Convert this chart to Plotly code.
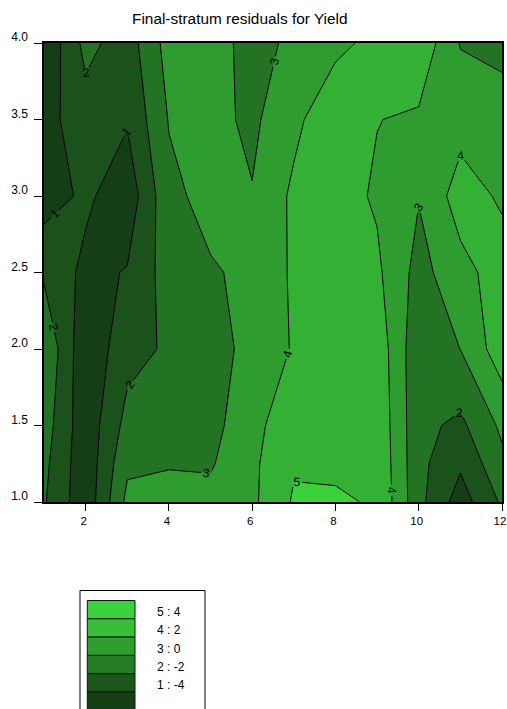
import plotly.graph_objects as go

# ---------------- data ----------------
x_cols = [1, 2, 3, 4, 5, 6, 7, 8, 9, 10, 11, 12]
y_rows = [1.0, 1.25, 1.5, 2.0, 2.5, 3.0, 3.5, 4.0]

res_y100 = [-1.8, -5.4, 0.5, 0.8, 0.6, 1.6, 4.23, 4.15, 3.89, -1.4, -4.95, -1.7]
res_y125 = [-1.5, -5.4, -0.36, -0.15, -0.2, 1.6, 3.8, 3.8, 3.69, -1.44, -3.7, -0.49]
res_y150 = [-1.04, -5.35, -1.32, -1.2, -0.84, 1.7, 2.64, 3.0, 3.55, -1.45, -2.45, 0.4]
res_y200 = [-0.16, -5.57, -2.72, -1.71, -0.8, 0.6, 2.17, 3.0, 3.29, -1.47, 0.02, 3.17]
res_y250 = [-2.3, -4.54, -3.88, -1.07, -0.2, 0.43, 2.3, 2.9, 2.37, -0.71, 1.32, 2.94]
res_y300 = [-5.0, -3.59, -5.3, -0.5, 0.66, 0.1, 2.39, 2.8, 1.75, 0.1, 2.94, 1.7]
res_y350 = [-4.7, -2.9, -3.8, 0.11, 0.6, -0.4, 1.5, 3.5, 2.05, 1.7, 1.2, 0.8]
res_y400 = [-5.74, -1.39, -3.0, 0.8, 0.73, -0.6, 0.35, 1.5, 2.56, 3.5, -0.11, -0.5]

residuals = [res_y100, res_y125, res_y150, res_y200, res_y250, res_y300, res_y350, res_y400]

level_values = [-4, -2, 0, 2, 4]      # contour values
level_numbers = [1, 2, 3, 4, 5]       # labels drawn on the lines
legend_labels = ["5 : 4", "4 : 2", "3 : 0", "2 : -2", "1 : -4", ""]

x_ticks = [2, 4, 6, 8, 10, 12]
y_ticks = [1.0, 1.5, 2.0, 2.5, 3.0, 3.5, 4.0]

title_text = "Final-stratum residuals for Yield"

# band colours, darkest (below -4) to brightest (above 4)
plot_colours = ["#163E16", "#1B521B", "#247224", "#2F9C2F", "#34B034", "#3BD13B"]
legend_colours = ["#3CD23C", "#38BE38", "#2F9E2F", "#267A26", "#1C561C", "#163F16"]

# map residual value -> contour level number (-4 -> 1, ..., 4 -> 5)
step = level_values[1] - level_values[0]
z_levels = [[(v - level_values[0]) / step + level_numbers[0] for v in row] for row in residuals]

n = len(plot_colours)
colorscale = [[i / (n - 1), c] for i, c in enumerate(plot_colours)]

FONT = "Liberation Sans, Arial, sans-serif"

fig = go.Figure()
fig.add_trace(go.Contour(
    x=x_cols, y=y_rows, z=z_levels,
    autocontour=False,
    contours=dict(start=level_numbers[0], end=level_numbers[-1], size=1,
                  coloring="fill", showlines=True, showlabels=True,
                  labelfont=dict(size=12, color="black", family=FONT)),
    line=dict(color="black", width=1, smoothing=0),
    colorscale=colorscale, showscale=False, hoverinfo="skip",
))

# ---------------- layout ----------------
W, H = 507, 709
L, R, T, B = 44, 5, 43, 207
pw, ph = W - L - R, H - T - B

def px_x(px):
    return (px - L) / pw

def px_y(py):
    return (H - B - py) / ph

shapes = []
annotations = []

# legend frame
shapes.append(dict(type="rect", xref="paper", yref="paper",
                   x0=px_x(80), x1=px_x(205), y0=px_y(720), y1=px_y(590.5),
                   line=dict(color="black", width=1), fillcolor="white", layer="above"))
box_top, box_h = 600.5, 18.3
for i, (c, lab) in enumerate(zip(legend_colours, legend_labels)):
    y0 = box_top + i * box_h
    shapes.append(dict(type="rect", xref="paper", yref="paper",
                       x0=px_x(87.3), x1=px_x(135), y0=px_y(y0 + box_h), y1=px_y(y0),
                       line=dict(color="#0a1a0a", width=1), fillcolor=c, layer="above"))
    if lab:
        annotations.append(dict(xref="paper", yref="paper", x=px_x(155), y=px_y(y0 + box_h / 2 + 2.5),
                                text=lab, showarrow=False, xanchor="left", yanchor="middle",
                                font=dict(size=12, color="black", family=FONT)))

annotations.append(dict(xref="paper", yref="paper", x=px_x(240), y=px_y(18),
                        text=title_text, showarrow=False, xanchor="center", yanchor="middle",
                        font=dict(size=15.4, color="black", family=FONT)))

fig.update_layout(
    width=W, height=H, autosize=False,
    margin=dict(l=L, r=R, t=T, b=B, pad=0, autoexpand=False),
    paper_bgcolor="white", plot_bgcolor="white",
    font=dict(family=FONT, size=12, color="black"),
    showlegend=False,
    shapes=shapes, annotations=annotations,
    xaxis=dict(range=[x_cols[0], x_cols[-1]], tickvals=x_ticks, ticks="outside", ticklen=7,
               tickcolor="black", showline=True, linecolor="black", linewidth=1.5, mirror=True,
               showgrid=False, zeroline=False, automargin=False, ticklabeloverflow="allow",
               ticklabelshift=-2, tickfont=dict(size=11.5, family=FONT)),
    yaxis=dict(range=[y_rows[0], y_rows[-1]], tickvals=y_ticks, tickformat=".1f", ticks="outside",
               ticklen=8, tickcolor="black", showline=True, linecolor="black", linewidth=1.5,
               mirror=True, showgrid=False, zeroline=False, ticklabelposition="outside",
               ticklabelshift=-6, ticklabelstandoff=4, ticklabeloverflow="allow",
               automargin=False, tickfont=dict(size=12, family=FONT)),
)

fig.write_html("out.html", config={"displayModeBar": False},
               post_script="document.body.style.margin='0';document.body.style.overflow='hidden';")
